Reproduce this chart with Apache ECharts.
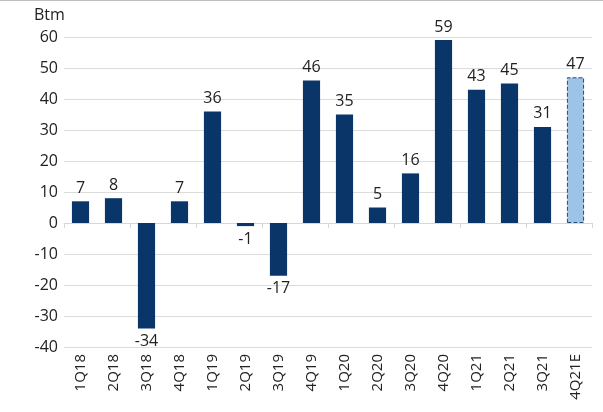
<!DOCTYPE html>
<html><head><meta charset="utf-8">
<script src="https://cdn.jsdelivr.net/npm/echarts@6/dist/echarts.min.js"></script>
<style>html,body{margin:0;padding:0;background:#fff}#c{width:603px;height:412px}</style>
</head><body><div id="c"></div>
<script>
const categories = ['1Q18','2Q18','3Q18','4Q18','1Q19','2Q19','3Q19','4Q19','1Q20','2Q20','3Q20','4Q20','1Q21','2Q21','3Q21','4Q21E'];
const values = [7, 8, -34, 7, 36, -1, -17, 46, 35, 5, 16, 59, 43, 45, 31, 47];
const estimated = [false,false,false,false,false,false,false,false,false,false,false,false,false,false,false,true];
const unitLabel = 'Btm';

const FONT = '"Open Sans", "Noto Sans", sans-serif';
const chart = echarts.init(document.getElementById('c'));
const data = values.map((v, i) => {
  const d = { value: v, label: { position: v < 0 ? 'bottom' : 'top' } };
  if (estimated[i]) d.itemStyle = { color: '#9DC3E6', borderColor: '#1F4E79', borderType: 'dashed', borderWidth: 1 };
  return d;
});

chart.setOption({
  animation: false,
  textStyle: { fontFamily: FONT },
  grid: { left: 64, right: 11, top: 37, bottom: 65 },
  graphic: [
    { type: 'line', shape: { x1: 0, y1: 0.5, x2: 603, y2: 0.5 }, style: { stroke: '#bdbdbd', lineWidth: 1 } },
    { type: 'text', left: 34, top: 7, style: { text: unitLabel, font: '16px ' + FONT, fill: '#222' } }
  ],
  xAxis: [
    { type: 'category', data: categories, position: 'bottom',
      axisLine: { show: true, onZero: true, lineStyle: { color: '#d0d8e0' } },
      axisTick: { show: true, length: 5, lineStyle: { color: '#d0d8e0' } },
      axisLabel: { show: false } },
    { type: 'category', data: categories, position: 'bottom',
      axisLine: { show: false, onZero: false }, axisTick: { show: false },
      axisLabel: { rotate: 90, fontSize: 15, color: '#222', margin: 7, fontFamily: FONT } }
  ],
  yAxis: {
    type: 'value', min: -40, max: 60, interval: 10,
    axisLine: { show: false }, axisTick: { show: false },
    axisLabel: { fontSize: 16, color: '#222', margin: 6, fontFamily: FONT },
    splitLine: { lineStyle: { color: '#dcdcdc' } }
  },
  series: [{
    type: 'bar', data: data, xAxisIndex: 0, barWidth: '52%',
    itemStyle: { color: '#0A3568' },
    label: { show: true, fontSize: 16, color: '#222', distance: 5, fontFamily: FONT,
      formatter: p => String(p.value) }
  }]
});
</script></body></html>
